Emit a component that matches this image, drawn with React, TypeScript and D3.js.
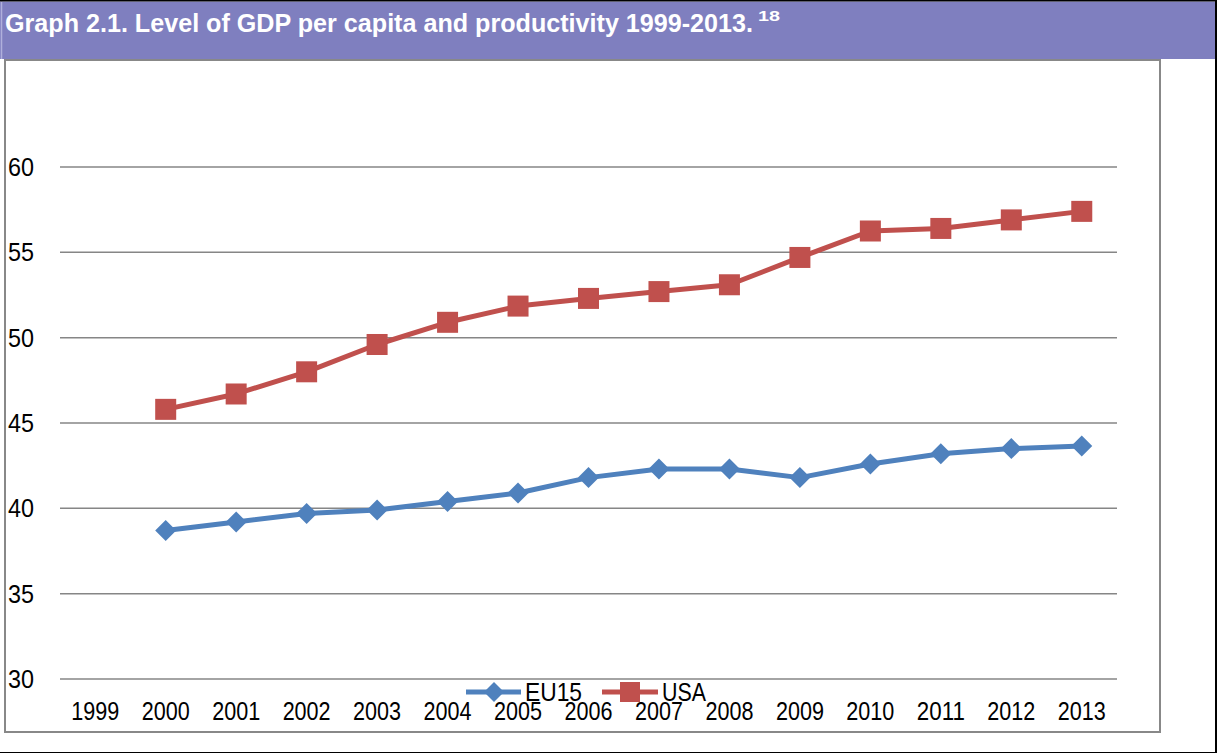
import React from "react";
import * as d3 from "d3";

const years = ["1999","2000","2001","2002","2003","2004","2005","2006","2007","2008","2009","2010","2011","2012","2013"];
const eu15: (number | null)[] = [null, 38.7, 39.2, 39.7, 39.9, 40.4, 40.9, 41.8, 42.3, 42.3, 41.8, 42.6, 43.2, 43.5, 43.65];
const usa: (number | null)[] = [null, 45.8, 46.7, 48.0, 49.6, 50.9, 51.85, 52.3, 52.7, 53.1, 54.7, 56.25, 56.4, 56.9, 57.4];
const yTicks = [30, 35, 40, 45, 50, 55, 60];
const seriesNames = ["EU15", "USA"];
const seriesColors = ["#4F81BD", "#C0504D"];
const title = "Graph 2.1. Level of GDP per capita and productivity 1999-2013.";
const footnote = "18";

const W = 1217, H = 753;
const FONT = "'Liberation Sans', Arial, sans-serif";

export default function App() {
  const x = d3.scaleBand<string>().domain(years).range([60, 1117]);
  const y = d3.scaleLinear().domain([30, 60]).range([679, 167]);
  const cx = (d: string) => (x(d) as number) + x.bandwidth() / 2;

  const line = d3.line<[string, number | null]>()
    .defined(d => d[1] != null)
    .x(d => cx(d[0]))
    .y(d => y(d[1] as number));

  const eu = years.map((yr, i) => [yr, eu15[i]] as [string, number | null]);
  const us = years.map((yr, i) => [yr, usa[i]] as [string, number | null]);

  const diamond = (px: number, py: number, r: number) =>
    `M${px},${py - r}L${px + r},${py}L${px},${py + r}L${px - r},${py}Z`;

  return (
    <svg width={W} height={H} style={{ position: "absolute", left: 0, top: 0, display: "block" }}>
      <rect x={0} y={0} width={W} height={H} fill="#fff" />
      {/* title bar */}
      <rect x={0} y={1.5} width={1215} height={57.5} fill="#7F7FBF" />
      <line x1={1.5} y1={1.5} x2={1.5} y2={59} stroke="#B0B0DC" strokeWidth={1.5} />
      <text x={5} y={32} fill="#fff" fontFamily={FONT} fontWeight="bold" fontSize={25.5}>
        <tspan textLength={748} lengthAdjust="spacingAndGlyphs">{title}</tspan>
        <tspan x={758} y={21} fontSize={14} textLength={22} lengthAdjust="spacingAndGlyphs">{footnote}</tspan>
      </text>
      {/* outer black border */}
      <line x1={0} y1={0.75} x2={W} y2={0.75} stroke="#000" strokeWidth={1.5} />
      <line x1={1216} y1={0} x2={1216} y2={H} stroke="#000" strokeWidth={2} />
      <line x1={0} y1={752.5} x2={W} y2={752.5} stroke="#000" strokeWidth={1} />
      {/* chart frame */}
      <rect x={5} y={60} width={1155} height={672} fill="#fff" stroke="#888" strokeWidth={2} />
      {/* gridlines */}
      {yTicks.map(t => (
        <g key={t}>
          <line x1={60} x2={1117} y1={y(t)} y2={y(t)} stroke="#868686" strokeWidth={1.5} />
          <text x={8} y={y(t)} dy="0.36em" fontFamily={FONT} fontSize={25} fill="#000"
            textLength={26} lengthAdjust="spacingAndGlyphs">{t}</text>
        </g>
      ))}
      {/* x labels */}
      {years.map(yr => (
        <text key={yr} x={cx(yr) - 24} y={720} fontFamily={FONT} fontSize={25} fill="#000"
          textLength={48} lengthAdjust="spacingAndGlyphs">{yr}</text>
      ))}
      {/* series */}
      <path d={line(eu) || ""} fill="none" stroke={seriesColors[0]} strokeWidth={5} strokeLinejoin="round" />
      <path d={line(us) || ""} fill="none" stroke={seriesColors[1]} strokeWidth={5} strokeLinejoin="round" />
      {eu.filter(d => d[1] != null).map(d => (
        <path key={"e" + d[0]} d={diamond(cx(d[0]), y(d[1] as number), 10.5)} fill={seriesColors[0]} />
      ))}
      {us.filter(d => d[1] != null).map(d => (
        <rect key={"u" + d[0]} x={cx(d[0]) - 10.5} y={y(d[1] as number) - 10.5} width={21} height={21} fill={seriesColors[1]} />
      ))}
      {/* legend */}
      <g>
        <line x1={466} x2={521} y1={692} y2={692} stroke={seriesColors[0]} strokeWidth={5} />
        <path d={diamond(494, 692, 10)} fill={seriesColors[0]} />
        <text x={525} y={692} dy="0.36em" fontFamily={FONT} fontSize={25} fill="#000"
          textLength={57} lengthAdjust="spacingAndGlyphs">{seriesNames[0]}</text>
        <line x1={602} x2={658} y1={692} y2={692} stroke={seriesColors[1]} strokeWidth={5} />
        <rect x={620} y={682} width={20} height={20} fill={seriesColors[1]} />
        <text x={662} y={692} dy="0.36em" fontFamily={FONT} fontSize={25} fill="#000"
          textLength={44} lengthAdjust="spacingAndGlyphs">{seriesNames[1]}</text>
      </g>
    </svg>
  );
}
